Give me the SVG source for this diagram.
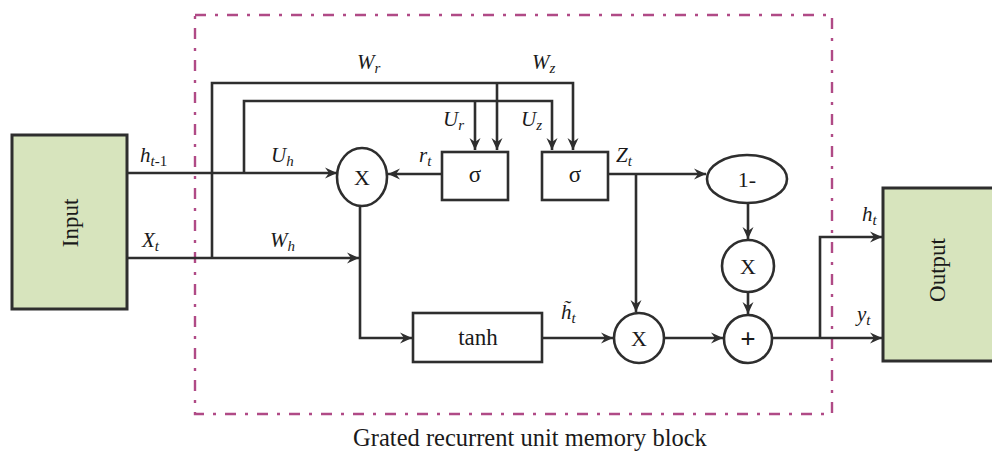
<svg xmlns="http://www.w3.org/2000/svg" width="992" height="452" viewBox="0 0 992 452">
<style>
.ln{fill:none;stroke:#2e2e2e;stroke-width:2.6}
.bx{fill:#fff;stroke:#2e2e2e;stroke-width:2.6}
.io{fill:#d7e4bd;stroke:#2e2e2e;stroke-width:3}
.t{font-family:"Liberation Serif","Times New Roman",serif;fill:#1a1a1a}
.i{font-family:"Liberation Serif","Times New Roman",serif;font-style:italic;fill:#1a1a1a}
</style>
<defs>
<marker id="ar" markerUnits="userSpaceOnUse" markerWidth="13" markerHeight="12" refX="12" refY="6" orient="auto">
<path d="M0,0.5 L12,6 L0,11.5 L4,6 z" fill="#2e2e2e"/>
</marker>
</defs>
<rect x="0" y="0" width="992" height="452" fill="#fff"/>
<rect id="block" x="195" y="15" width="637" height="399" fill="none" stroke="#b04a86" stroke-width="2.4" stroke-dasharray="11 9 3 9"/>
<g id="input"><rect class="io" x="12" y="135" width="115" height="174"/><text class="t" font-size="23" text-anchor="middle" transform="translate(78,223) rotate(-90)">Input</text></g>
<g id="output"><rect class="io" x="883" y="188" width="120" height="173"/><text class="t" font-size="23" text-anchor="middle" transform="translate(945,270) rotate(-90)">Output</text></g>
<g id="mult1"><ellipse class="bx" cx="362" cy="177" rx="25" ry="29"/><text class="t" font-size="22" x="362" y="185" text-anchor="middle">X</text></g>
<g id="sigma_r"><rect class="bx" x="442" y="152" width="66" height="48"/><text class="t" font-size="23" x="475" y="182" text-anchor="middle">σ</text></g>
<g id="sigma_z"><rect class="bx" x="542" y="152" width="66" height="48"/><text class="t" font-size="23" x="575" y="182" text-anchor="middle">σ</text></g>
<g id="oneminus"><ellipse class="bx" cx="747" cy="179" rx="40" ry="24"/><text class="t" font-size="22" x="747" y="187" text-anchor="middle">1-</text></g>
<g id="mult2"><circle class="bx" cx="748" cy="266" r="26"/><text class="t" font-size="22" x="748" y="274" text-anchor="middle">X</text></g>
<g id="tanh"><rect class="bx" x="413" y="313" width="129" height="49"/><text class="t" font-size="23" x="478" y="345" text-anchor="middle">tanh</text></g>
<g id="mult3"><circle class="bx" cx="639" cy="338" r="25"/><text class="t" font-size="22" x="639" y="346" text-anchor="middle">X</text></g>
<g id="plus"><circle class="bx" cx="748" cy="339" r="24"/><text class="t" font-size="27" font-weight="bold" x="748" y="348" text-anchor="middle">+</text></g>
<g id="connectors">
<path class="ln" d="M127,173 H337" marker-end="url(#ar)"/>
<path class="ln" d="M244,173 V101 H552 V150" marker-end="url(#ar)"/>
<path class="ln" d="M475,101 V150" marker-end="url(#ar)"/>
<path class="ln" d="M127,258 H359" marker-end="url(#ar)"/>
<path class="ln" d="M212,258 V83 H573 V150" marker-end="url(#ar)"/>
<path class="ln" d="M497,83 V150" marker-end="url(#ar)"/>
<path class="ln" d="M442,174 H388" marker-end="url(#ar)"/>
<path class="ln" d="M360,206 V338 H412" marker-end="url(#ar)"/>
<path class="ln" d="M542,338 H613" marker-end="url(#ar)"/>
<path class="ln" d="M608,174 H706" marker-end="url(#ar)"/>
<path class="ln" d="M636,174 V312" marker-end="url(#ar)"/>
<path class="ln" d="M748,203 V239" marker-end="url(#ar)"/>
<path class="ln" d="M748,292 V314" marker-end="url(#ar)"/>
<path class="ln" d="M664,338 H723" marker-end="url(#ar)"/>
<path class="ln" d="M772,338 H882" marker-end="url(#ar)"/>
<path class="ln" d="M820,338 V237 H882" marker-end="url(#ar)"/>
</g>
<g id="labels">
<text class="i" font-size="21" x="357" y="69">W<tspan font-size="15" dy="4">r</tspan></text>
<text class="i" font-size="21" x="532" y="69">W<tspan font-size="15" dy="4">z</tspan></text>
<text class="i" font-size="21" x="443" y="126">U<tspan font-size="15" dy="4">r</tspan></text>
<text class="i" font-size="21" x="521" y="126">U<tspan font-size="15" dy="4">z</tspan></text>
<text class="i" font-size="21" x="271" y="162">U<tspan font-size="15" dy="4">h</tspan></text>
<text class="i" font-size="21" x="419" y="162">r<tspan font-size="15" dy="4">t</tspan></text>
<text class="i" font-size="21" x="140" y="162">h<tspan font-size="15" dy="4">t</tspan><tspan class="t" font-style="normal" font-size="15">-1</tspan></text>
<text class="i" font-size="21" x="142" y="247">X<tspan font-size="15" dy="4">t</tspan></text>
<text class="i" font-size="21" x="270" y="247">W<tspan font-size="15" dy="4">h</tspan></text>
<text class="i" font-size="21" x="616" y="162">Z<tspan font-size="15" dy="4">t</tspan></text>
<text class="i" font-size="21" x="561" y="319">h&#x303;<tspan font-size="15" dy="4">t</tspan></text>
<text class="i" font-size="21" x="862" y="221">h<tspan font-size="15" dy="4">t</tspan></text>
<text class="i" font-size="21" x="857" y="321">y<tspan font-size="15" dy="4">t</tspan></text>
<text class="t" font-size="24.5" x="530" y="446" text-anchor="middle">Grated recurrent unit memory block</text>
</g>
</svg>
